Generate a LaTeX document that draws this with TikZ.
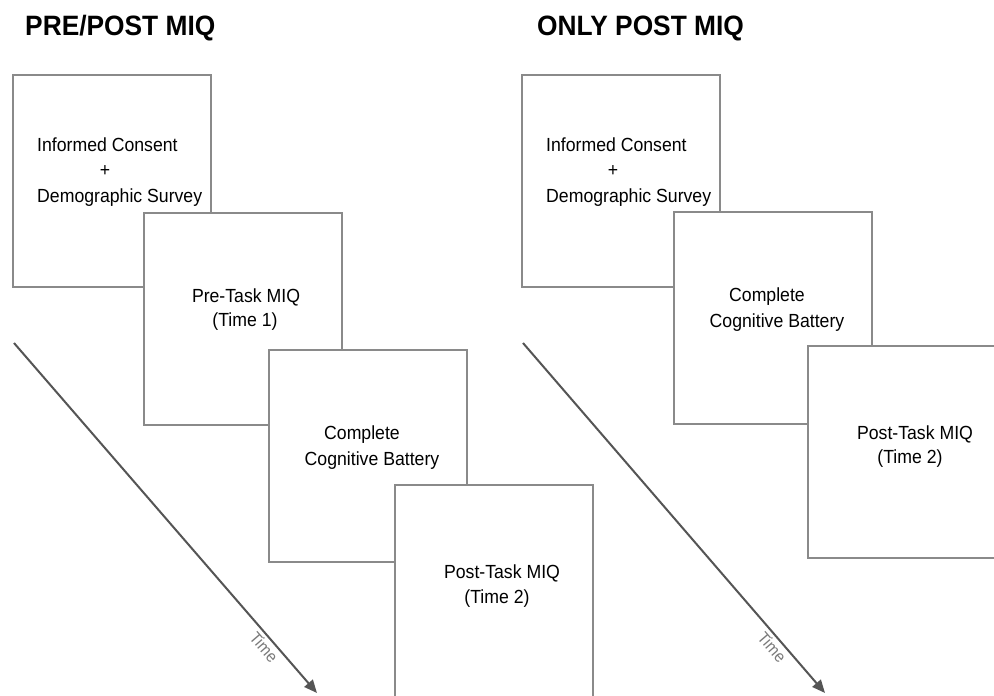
\documentclass[tikz,border=0pt]{standalone}
\usepackage{fontspec}
\setmainfont[FakeStretch=0.93]{Liberation Sans}
\newfontfamily\titlefont[FakeStretch=0.94]{Liberation Sans}
\usetikzlibrary{arrows.meta}
\definecolor{boxgray}{HTML}{8A8A8A}
\definecolor{arrgray}{HTML}{555555}
\definecolor{timegray}{HTML}{7A7A7A}
\tikzset{
  card/.style={draw=boxgray, line width=1.6pt, fill=white, rectangle, anchor=north west,
               minimum width=198pt, minimum height=212pt, inner sep=0pt},
  lbl/.style={font=\fontsize{19}{22}\selectfont, text=black, anchor=base, inner sep=0pt},
  lbll/.style={lbl, anchor=base west},
  ttl/.style={font=\titlefont\bfseries\fontsize{28}{32}\selectfont, anchor=base west, inner sep=0pt},
  timearrow/.style={draw=arrgray, line width=2pt, -{Triangle[length=13pt,width=11pt]}},
  timelbl/.style={font=\fontsize{16.5}{19}\selectfont, text=timegray, sloped, inner sep=0pt}
}
\begin{document}
\begin{tikzpicture}[x=1pt,y=-1pt]
\useasboundingbox (0,0) rectangle (994,696);
\fill[white] (0,0) rectangle (994,696);

% titles
\node[ttl] (title1) at (25,35) {PRE/POST MIQ};
\node[ttl] (title2) at (537,35) {ONLY POST MIQ};

% ---------- left panel ----------
\coordinate (s1) at (14,343);
\coordinate (e1) at (317,693);
\draw[timearrow] (s1) -- (e1) node[timelbl, pos=0.85, below=3pt] (time1) {Time};

\node[card] (L1) at (12,74) {};
\node[lbll] (L1a) at (37,151) {Informed Consent};
\node[lbl] (L1b) at (105,176) {+};
\node[lbll] (L1c) at (37,202) {Demographic Survey};

\node[card] (L2) at (143,212) {};
\node[lbl] (L2a) at (246,302) {Pre-Task MIQ};
\node[lbl] (L2b) at (245,326) {(Time 1)};

\node[card] (L3) at (268,349) {};
\node[lbl] (L3a) at (362,439) {Complete};
\node[lbl] (L3b) at (372,465) {Cognitive Battery};

\node[card] (L4) at (394,484) {};
\node[lbl] (L4a) at (502,578) {Post-Task MIQ};
\node[lbl] (L4b) at (497,603) {(Time 2)};

% ---------- right panel ----------
\coordinate (s2) at (523,343);
\coordinate (e2) at (825,693);
\draw[timearrow] (s2) -- (e2) node[timelbl, pos=0.85, below=3pt] (time2) {Time};

\node[card] (R1) at (521,74) {};
\node[lbll] (R1a) at (546,151) {Informed Consent};
\node[lbl] (R1b) at (613,176) {+};
\node[lbll] (R1c) at (546,202) {Demographic Survey};

\node[card] (R2) at (673,211) {};
\node[lbl] (R2a) at (767,301) {Complete};
\node[lbl] (R2b) at (777,327) {Cognitive Battery};

\node[card] (R3) at (807,345) {};
\node[lbl] (R3a) at (915,439) {Post-Task MIQ};
\node[lbl] (R3b) at (910,463) {(Time 2)};
\end{tikzpicture}
\end{document}
